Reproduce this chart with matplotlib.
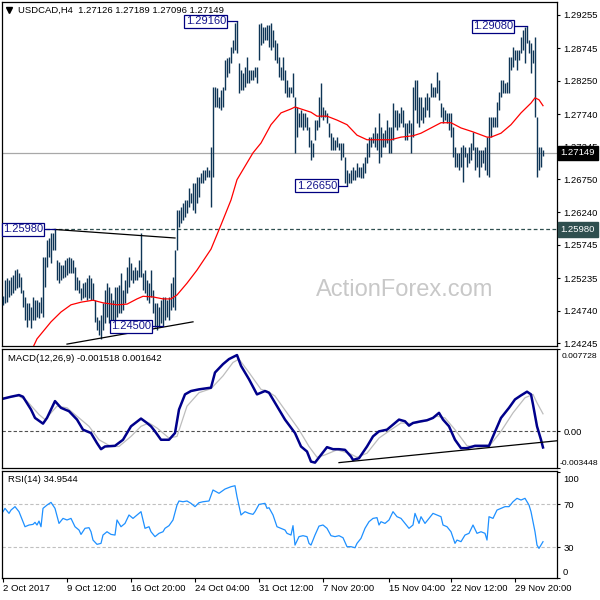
import matplotlib
matplotlib.use('Agg')
import matplotlib.pyplot as plt
import matplotlib.transforms as mtransforms
import numpy as np

plt.rcParams['font.family'] = ['Liberation Sans', 'DejaVu Sans']

# ---- data (H4 bars, 2 Oct - 1 Dec 2017) ----
symbol = 'USDCAD,H4'
last_ohlc = [1.27126, 1.27189, 1.27096, 1.27149]

high = [
    1.2496, 1.2521, 1.2524, 1.2521, 1.2525, 1.2529, 1.2536, 1.2538, 1.2532, 1.2525,
    1.2506, 1.2495, 1.2486, 1.2486, 1.2480, 1.2495, 1.2490, 1.2490, 1.2487, 1.2495,
    1.2556, 1.2556, 1.2582, 1.2585, 1.2593, 1.2593, 1.2598, 1.2551, 1.2548, 1.2544,
    1.2544, 1.2551, 1.2554, 1.2556, 1.2554, 1.2551, 1.2541, 1.2525, 1.2521, 1.2509,
    1.2516, 1.2518, 1.2524, 1.2529, 1.2524, 1.2516, 1.2490, 1.2464, 1.2460, 1.2467,
    1.2486, 1.2506, 1.2516, 1.2510, 1.2501, 1.2490, 1.2510, 1.2510, 1.2513, 1.2532,
    1.2506, 1.2521, 1.2541, 1.2556, 1.2547, 1.2536, 1.2541, 1.2536, 1.2551, 1.2593,
    1.2532, 1.2536, 1.2521, 1.2516, 1.2536, 1.2506, 1.2486, 1.2486, 1.2480, 1.2490,
    1.2495, 1.2495, 1.2490, 1.2495, 1.2516, 1.2525, 1.2567, 1.2628, 1.2628, 1.2632,
    1.2638, 1.2643, 1.2643, 1.2661, 1.2654, 1.2669, 1.2669, 1.2678, 1.2678, 1.2684,
    1.2689, 1.2689, 1.2693, 1.2689, 1.2724, 1.2816, 1.2816, 1.2814, 1.2800, 1.2811,
    1.2816, 1.2857, 1.2860, 1.2861, 1.2877, 1.2887, 1.2913, 1.2916, 1.2852, 1.2841,
    1.2837, 1.2846, 1.2861, 1.2841, 1.2841, 1.2841, 1.2846, 1.2846, 1.2912, 1.2913,
    1.2907, 1.2907, 1.2910, 1.2910, 1.2913, 1.2903, 1.2887, 1.2883, 1.2861, 1.2846,
    1.2861, 1.2841, 1.2826, 1.2816, 1.2816, 1.2837, 1.2800, 1.2785, 1.2776, 1.2780,
    1.2776, 1.2776, 1.2770, 1.2755, 1.2735, 1.2730, 1.2765, 1.2765, 1.2800, 1.2822,
    1.2785, 1.2780, 1.2776, 1.2761, 1.2745, 1.2739, 1.2735, 1.2739, 1.2730, 1.2730,
    1.2730, 1.2709, 1.2689, 1.2684, 1.2689, 1.2693, 1.2689, 1.2700, 1.2693, 1.2693,
    1.2700, 1.2709, 1.2730, 1.2739, 1.2739, 1.2745, 1.2755, 1.2745, 1.2776, 1.2755,
    1.2745, 1.2750, 1.2765, 1.2755, 1.2755, 1.2791, 1.2780, 1.2780, 1.2776, 1.2785,
    1.2780, 1.2761, 1.2761, 1.2765, 1.2761, 1.2816, 1.2826, 1.2826, 1.2800, 1.2800,
    1.2785, 1.2800, 1.2806, 1.2800, 1.2822, 1.2816, 1.2816, 1.2838, 1.2826, 1.2791,
    1.2785, 1.2780, 1.2776, 1.2776, 1.2776, 1.2755, 1.2724, 1.2715, 1.2715, 1.2724,
    1.2727, 1.2724, 1.2715, 1.2724, 1.2730, 1.2747, 1.2724, 1.2724, 1.2719, 1.2719,
    1.2719, 1.2724, 1.2739, 1.2770, 1.2770, 1.2770, 1.2770, 1.2793, 1.2808, 1.2826,
    1.2826, 1.2822, 1.2823, 1.2861, 1.2861, 1.2877, 1.2872, 1.2872, 1.2872, 1.2892,
    1.2903, 1.2907, 1.2908, 1.2887, 1.2883, 1.2872, 1.2892, 1.2770, 1.2724, 1.2724,
    1.27189,
]
low = [
    1.2483, 1.2486, 1.2487, 1.2495, 1.2498, 1.2501, 1.2506, 1.2509, 1.2510, 1.2501,
    1.2480, 1.2460, 1.2449, 1.2460, 1.2448, 1.2460, 1.2460, 1.2464, 1.2463, 1.2470,
    1.2464, 1.2510, 1.2541, 1.2556, 1.2547, 1.2567, 1.2567, 1.2521, 1.2516, 1.2521,
    1.2524, 1.2525, 1.2529, 1.2532, 1.2532, 1.2532, 1.2506, 1.2506, 1.2501, 1.2490,
    1.2493, 1.2495, 1.2490, 1.2493, 1.2490, 1.2490, 1.2457, 1.2445, 1.2437, 1.2431,
    1.2445, 1.2455, 1.2464, 1.2455, 1.2460, 1.2455, 1.2460, 1.2464, 1.2470, 1.2470,
    1.2475, 1.2486, 1.2501, 1.2510, 1.2521, 1.2516, 1.2521, 1.2521, 1.2525, 1.2525,
    1.2506, 1.2501, 1.2490, 1.2486, 1.2495, 1.2470, 1.2449, 1.2445, 1.2449, 1.2455,
    1.2450, 1.2460, 1.2464, 1.2460, 1.2475, 1.2480, 1.2475, 1.2567, 1.2602, 1.2608,
    1.2612, 1.2617, 1.2623, 1.2632, 1.2638, 1.2628, 1.2623, 1.2638, 1.2648, 1.2669,
    1.2669, 1.2674, 1.2678, 1.2678, 1.2632, 1.2678, 1.2785, 1.2785, 1.2784, 1.2780,
    1.2785, 1.2811, 1.2831, 1.2837, 1.2852, 1.2867, 1.2872, 1.2867, 1.2806, 1.2811,
    1.2811, 1.2816, 1.2822, 1.2822, 1.2826, 1.2826, 1.2831, 1.2822, 1.2857, 1.2880,
    1.2883, 1.2887, 1.2887, 1.2877, 1.2872, 1.2877, 1.2857, 1.2852, 1.2831, 1.2826,
    1.2826, 1.2806, 1.2800, 1.2800, 1.2806, 1.2800, 1.2715, 1.2739, 1.2755, 1.2755,
    1.2750, 1.2755, 1.2750, 1.2724, 1.2704, 1.2709, 1.2735, 1.2750, 1.2755, 1.2770,
    1.2765, 1.2770, 1.2761, 1.2739, 1.2719, 1.2719, 1.2719, 1.2724, 1.2719, 1.2704,
    1.2709, 1.2669, 1.2665, 1.2669, 1.2669, 1.2674, 1.2674, 1.2678, 1.2678, 1.2677,
    1.2677, 1.2684, 1.2700, 1.2709, 1.2724, 1.2730, 1.2724, 1.2719, 1.2700, 1.2709,
    1.2724, 1.2724, 1.2730, 1.2715, 1.2715, 1.2735, 1.2755, 1.2750, 1.2755, 1.2761,
    1.2755, 1.2735, 1.2735, 1.2745, 1.2715, 1.2739, 1.2780, 1.2761, 1.2755, 1.2765,
    1.2761, 1.2770, 1.2780, 1.2770, 1.2800, 1.2800, 1.2800, 1.2806, 1.2796, 1.2770,
    1.2761, 1.2765, 1.2761, 1.2750, 1.2739, 1.2709, 1.2693, 1.2693, 1.2689, 1.2693,
    1.2671, 1.2709, 1.2693, 1.2700, 1.2704, 1.2719, 1.2689, 1.2693, 1.2678, 1.2693,
    1.2700, 1.2689, 1.2681, 1.2678, 1.2739, 1.2755, 1.2755, 1.2755, 1.2780, 1.2800,
    1.2806, 1.2806, 1.2806, 1.2806, 1.2841, 1.2846, 1.2857, 1.2841, 1.2857, 1.2867,
    1.2872, 1.2852, 1.2883, 1.2867, 1.2837, 1.2852, 1.2770, 1.2678, 1.2689, 1.2693,
    1.27096,
]

# moving average (red), sampled along the bars
ma_idx = [15, 17, 24, 29, 34, 39, 45, 50, 57, 62,
          67, 70, 75, 80, 84, 87, 92, 97, 104, 109,
          114, 117, 125, 129, 134, 139, 144, 146, 149, 154,
          157, 162, 167, 172, 177, 182, 194, 199, 205, 209,
          214, 219, 224, 229, 235, 242, 244, 249, 254, 259,
          264, 266, 268, 270]
ma_val = [1.2418, 1.2431, 1.2457, 1.2472, 1.2483, 1.2487, 1.2490, 1.2486, 1.2483, 1.2484,
          1.2492, 1.2496, 1.2495, 1.2492, 1.2492, 1.2498, 1.2516, 1.2536, 1.2568, 1.2605,
          1.2643, 1.2674, 1.2715, 1.2730, 1.2758, 1.2776, 1.2782, 1.2785, 1.2782, 1.2777,
          1.2771, 1.2771, 1.2765, 1.2758, 1.2742, 1.2735, 1.2735, 1.2739, 1.2741, 1.2745,
          1.2753, 1.2761, 1.2761, 1.2753, 1.2747, 1.2739, 1.2739, 1.2745, 1.2758, 1.2776,
          1.2791, 1.2799, 1.2796, 1.2787]

# MACD(12,26,9)
macd_last = -0.001518
signal_last = 0.001642
macd_idx = [0, 4, 8, 10, 14, 16, 20, 22, 26, 29,
            33, 37, 40, 44, 47, 49, 51, 56, 60, 64,
            69, 72, 74, 76, 79, 83, 86, 88, 91, 94,
            98, 104, 106, 110, 113, 117, 119, 123, 127, 131,
            133, 137, 141, 146, 149, 152, 154, 156, 159, 162,
            165, 168, 171, 174, 175, 178, 182, 185, 188, 192,
            195, 198, 201, 203, 205, 209, 212, 215, 218, 220,
            223, 226, 229, 232, 236, 240, 243, 245, 249, 253,
            256, 259, 262, 264, 265, 267, 269, 270]
macd_val = [0.003056, 0.003245, 0.003403, 0.003245, 0.002045, 0.001256, 0.000719, 0.001256, 0.002835, 0.002203,
            0.001887, 0.001098, 0.000151, -0.000165, -0.001112, -0.001680, -0.001427, -0.001364, -0.000796, 0.000467,
            0.001193, 0.000782, 0.000467, -0.000007, -0.000796, -0.000796, -0.000165, 0.002045, 0.003466, 0.003782,
            0.003939, 0.004097, 0.005518, 0.006307, 0.006781, 0.007160, 0.006149, 0.004887, 0.003466, 0.003782,
            0.003624, 0.002361, 0.001098, -0.000165, -0.001427, -0.001901, -0.002848, -0.002943, -0.002217, -0.001491,
            -0.001680, -0.001680, -0.001743, -0.002375, -0.002690, -0.002532, -0.001427, -0.000480, -0.000007, 0.000151,
            0.000625, 0.001098, 0.000940, 0.000530, 0.000782, 0.000940, 0.001035, 0.001256, 0.001730, 0.001098,
            0.000467, -0.000796, -0.001585, -0.001585, -0.001364, -0.001364, -0.001364, -0.000480, 0.001256, 0.002203,
            0.002992, 0.003371, 0.003719, 0.003466, 0.002519, 0.000467, -0.000796, macd_last]
sig_idx = [0, 8, 12, 18, 21, 27, 32, 37, 43, 48,
           54, 58, 64, 69, 73, 77, 83, 87, 92, 98,
           104, 110, 115, 118, 123, 129, 132, 136, 142, 148,
           153, 157, 161, 167, 173, 177, 182, 188, 194, 199,
           205, 211, 217, 221, 226, 232, 238, 243, 249, 255,
           261, 265, 267, 270]
sig_val = [0.003150, 0.003308, 0.002835, 0.001572, 0.001098, 0.002361, 0.002203, 0.001414, 0.000467, -0.000796,
           -0.001427, -0.001427, -0.000480, 0.000467, 0.000782, 0.000309, -0.000638, -0.000480, 0.002361, 0.003624,
           0.004003, 0.005202, 0.006465, 0.006781, 0.005518, 0.003939, 0.003782, 0.003308, 0.001730, 0.000151,
           -0.001427, -0.002438, -0.002217, -0.001743, -0.002059, -0.002438, -0.002059, -0.000638, 0.000151, 0.000782,
           0.000719, 0.000940, 0.001414, 0.001256, 0.000151, -0.001364, -0.001491, -0.001427, -0.000007, 0.001730,
           0.003150, 0.003466, 0.002677, signal_last]

# RSI(14)
rsi_last = 34.9544
rsi_idx = [0, 1, 3, 4, 6, 8, 10, 11, 13, 15,
           16, 17, 18, 19, 20, 22, 24, 26, 28, 30,
           32, 34, 36, 38, 39, 41, 43, 44, 45, 47,
           49, 50, 52, 54, 56, 57, 59, 61, 63, 65,
           66, 69, 70, 71, 73, 74, 76, 78, 80, 81,
           83, 85, 87, 88, 90, 92, 94, 96, 98, 100,
           103, 105, 108, 111, 114, 116, 117, 119, 121, 123,
           125, 126, 128, 131, 132, 133, 135, 137, 139, 141,
           142, 144, 145, 146, 148, 150, 152, 153, 154, 156,
           158, 160, 162, 164, 166, 168, 170, 172, 174, 176,
           177, 179, 181, 183, 185, 187, 188, 189, 191, 193,
           195, 197, 199, 201, 203, 205, 206, 208, 209, 211,
           213, 215, 217, 219, 220, 222, 224, 226, 227, 229,
           231, 233, 235, 237, 239, 241, 242, 243, 245, 247,
           249, 251, 253, 255, 257, 259, 261, 263, 264, 266,
           267, 268, 269, 270]
rsi_val = [63.1, 66.2, 61.5, 64.6, 67.8, 63.1, 53.7, 49.0, 50.6, 51.2,
           53.1, 50.6, 54.3, 49.0, 66.2, 69.3, 71.8, 66.2, 52.1, 56.8,
           55.3, 56.8, 49.0, 45.9, 41.8, 47.5, 48.1, 44.3, 36.5, 32.5,
           33.4, 41.2, 44.3, 41.8, 41.2, 55.3, 49.0, 52.1, 60.0, 56.8,
           58.4, 63.1, 55.3, 47.5, 49.0, 44.3, 39.7, 42.8, 44.3, 47.5,
           50.0, 55.3, 69.3, 73.1, 72.4, 73.1, 70.9, 67.8, 71.5, 72.4,
           73.1, 83.4, 80.3, 84.3, 86.5, 87.4, 77.1, 60.0, 63.1, 61.5,
           60.6, 63.1, 69.9, 70.9, 66.2, 66.8, 60.0, 49.0, 47.5, 45.9,
           42.8, 41.2, 50.0, 31.8, 39.7, 40.6, 39.7, 33.4, 31.8, 41.2,
           49.6, 50.6, 47.5, 40.6, 39.7, 40.6, 38.7, 30.3, 30.3, 29.3,
           33.4, 38.1, 47.5, 53.7, 56.8, 57.5, 50.6, 53.7, 52.1, 55.3,
           63.1, 58.4, 56.8, 52.1, 47.5, 50.6, 61.5, 52.1, 58.4, 52.1,
           56.8, 61.5, 60.0, 58.4, 50.6, 49.0, 44.3, 33.4, 36.5, 35.0,
           41.2, 42.8, 50.6, 42.8, 44.3, 42.8, 36.5, 58.4, 56.8, 64.6,
           66.2, 67.8, 67.8, 72.4, 75.6, 74.0, 75.6, 69.3, 63.1, 44.3,
           31.8, 28.7, 31.8, rsi_last]

# axes / annotations
price_ticks = [1.29255, 1.28745, 1.28250, 1.27740, 1.27245, 1.26750,
               1.26240, 1.25745, 1.25235, 1.24740, 1.24245]
time_ticks = [0, 32, 64, 96, 128, 160, 193, 224, 256]
time_labels = ['2 Oct 2017', '9 Oct 12:00', '16 Oct 20:00', '24 Oct 04:00',
               '31 Oct 12:00', '7 Nov 20:00', '15 Nov 04:00', '22 Nov 12:00',
               '29 Nov 20:00']
level = 1.2598
upper_line = ([26, 86], [1.2598, 1.2585])
lower_line = ([32, 95], [1.2423, 1.2457])
macd_line = ([168, 277], [-0.002943, -0.000891])
rsi_levels = [70, 30]

bar_color = '#0E3556'
navy = '#000080'

fig = plt.figure(figsize=(6, 6), dpi=100)
ax1 = fig.add_axes([2 / 600, 1 - 346 / 600, 555 / 600, 344 / 600])
ax2 = fig.add_axes([2 / 600, 1 - 468 / 600, 555 / 600, 119 / 600])
ax3 = fig.add_axes([2 / 600, 1 - 578 / 600, 555 / 600, 107 / 600])

x = np.arange(len(high))
for ax in (ax1, ax2, ax3):
    ax.set_xlim(-0.5, 277)
    for s in ax.spines.values():
        s.set_linewidth(0.9)
    ax.tick_params(axis='x', bottom=False, labelbottom=False)
    ax.tick_params(axis='y', left=False, labelleft=False, right=True, labelright=True,
                   length=2.5, width=0.8, pad=2, labelsize=6.8)

# ---- price panel ----
ax1.set_ylim(1.24201, 1.29453)
ax1.set_yticks(price_ticks)
ax1.set_yticklabels(['%.5f' % v for v in price_ticks])
ax1.text(0.726, 0.163, 'ActionForex.com', transform=ax1.transAxes, fontsize=17,
         color='#C8C8C8', ha='center', va='center', zorder=0)
ax1.axhline(last_ohlc[3], color='#A8A8A8', lw=0.9, zorder=1)
ax1.axhline(level, color='#2F4F4F', lw=0.9, ls=(0, (3, 2)), zorder=1)
ax1.vlines(x, low, high, color=bar_color, lw=1.0, zorder=3)
ax1.plot(ma_idx, ma_val, color='red', lw=0.9, zorder=4)
ax1.plot(upper_line[0], upper_line[1], color='black', lw=0.9, zorder=4)
ax1.plot(lower_line[0], lower_line[1], color='black', lw=0.9, zorder=4)

ax1.plot([0.0126], [0.977], marker='v', ms=4, color='black', transform=ax1.transAxes)
ax1.text(0.0288, 0.977, symbol + '  ' + ' '.join('%.5f' % v for v in last_ohlc),
         transform=ax1.transAxes, fontsize=6.8, va='center', ha='left')

def price_label(ax, x_text, x_bar, price):
    ax.plot([x_text + 1, x_bar], [price, price], color=navy, lw=0.9, zorder=5)
    ax.text(x_text, price, '%.5f' % price, fontsize=8, color='#14148C', ha='right',
            va='center', zorder=6,
            bbox=dict(boxstyle='square,pad=0.12', fc='white', ec=navy, lw=0.9))

price_label(ax1, 111.5, 117, high[117])
price_label(ax1, 255, 262, high[262])
price_label(ax1, 167, 172, low[172])
price_label(ax1, 74, 80, low[80])
price_label(ax1, 20, 26, high[26])

bt = mtransforms.blended_transform_factory(ax1.transAxes, ax1.transData)
ax1.text(1.0065, last_ohlc[3], '%.5f' % last_ohlc[3], transform=bt, fontsize=6.8,
         color='white', ha='left', va='center', zorder=10, clip_on=False,
         bbox=dict(boxstyle='square,pad=0.3', fc='black', ec='black'))
ax1.text(1.0065, level, '%.5f' % level, transform=bt, fontsize=6.8,
         color='white', ha='left', va='center', zorder=10, clip_on=False,
         bbox=dict(boxstyle='square,pad=0.3', fc='#2F4F4F', ec='#2F4F4F'))

# ---- MACD panel ----
ax2.set_ylim(-0.003448, 0.007728)
ax2.set_yticks([-0.003448, 0.0, 0.007728])
ax2.set_yticklabels(['', '0.00', ''])
ax2.axhline(0, color='#505050', lw=0.8, ls=(0, (3, 2)))
ax2.plot(sig_idx, sig_val, color='#BDBDBD', lw=0.9)
ax2.plot(macd_idx, macd_val, color='#00008B', lw=1.8)
ax2.plot(macd_line[0], macd_line[1], color='black', lw=0.9)
ax2.text(0.0108, 0.916, 'MACD(12,26,9) %.6f %.6f' % (macd_last, signal_last),
         transform=ax2.transAxes, fontsize=6.8, va='center')
ax2.text(1.0085, 0.941, '0.007728', transform=ax2.transAxes, fontsize=6.1, va='center')
ax2.text(1.0050, 0.042, '-0.003448', transform=ax2.transAxes, fontsize=6.1, va='center',
         clip_on=False)

# ---- RSI panel ----
ax3.set_ylim(0.96, 101.2)
ax3.set_yticks([100, 70, 30, 0.96])
ax3.set_yticklabels(['', '70', '30', ''])
for lv in rsi_levels:
    ax3.axhline(lv, color='#C0C0C0', lw=0.8, ls=(0, (3, 2)))
ax3.plot(rsi_idx, rsi_val, color='#1E90FF', lw=0.9)
ax3.text(0.0108, 0.916, 'RSI(14) %.4f' % rsi_last, transform=ax3.transAxes,
         fontsize=6.8, va='center')
ax3.text(1.0105, 0.925, '100', transform=ax3.transAxes, fontsize=6.8, va='center')
ax3.text(1.0105, 0.047, '0', transform=ax3.transAxes, fontsize=6.8, va='center')

ax3.set_xticks(time_ticks)
ax3.set_xticklabels(time_labels)
ax3.tick_params(axis='x', bottom=True, labelbottom=True, length=3, width=0.8,
                pad=1.5, labelsize=6.8)
for lab in ax3.get_xticklabels():
    lab.set_horizontalalignment('left')

fig.savefig('out.png', dpi=100)
